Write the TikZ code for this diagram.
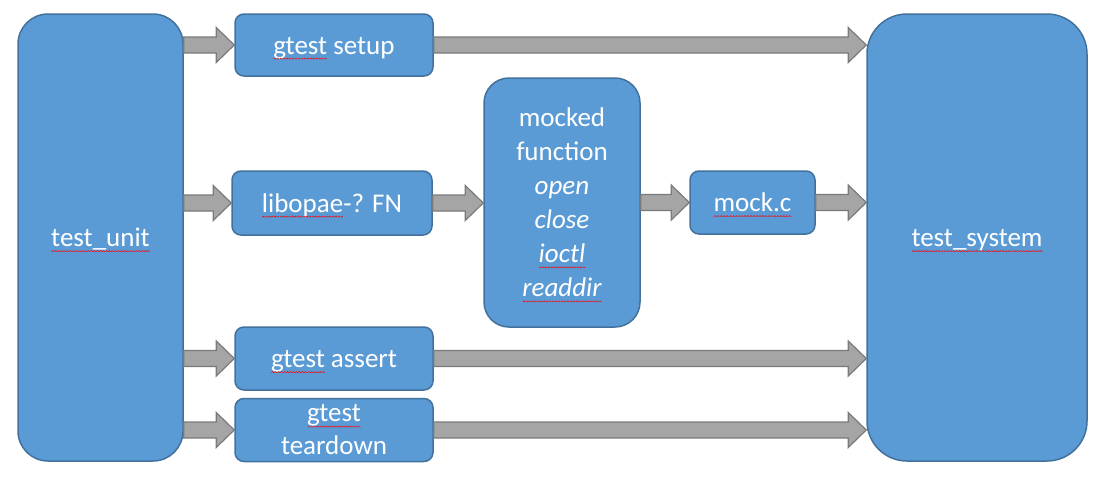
\documentclass[tikz,border=0pt]{standalone}
\usepackage{fontspec}
\setmainfont{Carlito}
\usetikzlibrary{calc}
\definecolor{boxfill}{HTML}{5B9BD5}
\definecolor{boxline}{HTML}{41719C}
\definecolor{arrfill}{HTML}{A5A5A5}
\definecolor{arrline}{HTML}{7A7A7A}
\newsavebox\wavebox
\sbox\wavebox{\tikz\draw[red,line width=0.5pt] (0,0)--(1.2pt,1.2pt)--(2.4pt,0);}
\newsavebox\sqbox
\newcommand\sq[1]{\leavevmode\sbox\sqbox{#1}\rlap{\usebox\sqbox}\raisebox{-5.5pt}[0pt][0pt]{\hbox to \wd\sqbox{\xleaders\copy\wavebox\hfil}}}
\newcommand\barrow[2]{\draw[arr] let \p1=(#1), \p2=(#2) in (\x1,\y1+8pt) -- (\x2-18pt,\y1+8pt) -- (\x2-18pt,\y1+17.5pt) -- (\x2,\y1) -- (\x2-18pt,\y1-17.5pt) -- (\x2-18pt,\y1-8pt) -- (\x1,\y1-8pt) -- cycle;}
\tikzset{
  blk/.style={draw=boxline, fill=boxfill, line width=1.5pt, text=white, align=center,
    font=\fontsize{27}{34}\selectfont, inner sep=0pt, rounded corners=9pt},
  one/.style={text height=20pt, text depth=2pt},
  arr/.style={draw=arrline, fill=arrfill, line width=1.2pt}
}
\begin{document}
\begin{tikzpicture}[x=1pt,y=-1pt]
\useasboundingbox (0,0) rectangle (1104,488);
\node[blk, one, minimum width=165pt, minimum height=447pt, rounded corners=30pt] (unit) at (100.5,237.5) {\sq{test\_unit}};
\node[blk, one, minimum width=220pt, minimum height=447pt, rounded corners=40pt] (system) at (977,237.5) {\sq{test\_system}};
\node[blk, one, minimum width=198pt, minimum height=62pt] (setup) at (334,45) {\sq{gtest} setup};
\node[blk, one, minimum width=200pt, minimum height=64pt] (lib) at (332,203) {\sq{libopae}-? FN};
\node[blk, minimum width=156pt, minimum height=249pt, rounded corners=25pt] (mocked) at (562,202.5) {mocked\\function\\\textit{open}\\\textit{close}\\\textit{\sq{ioctl}}\\\textit{\sq{readdir}}};
\node[blk, one, minimum width=125pt, minimum height=63pt] (mockc) at (752.5,202.5) {\sq{mock.c}};
\node[blk, one, minimum width=198pt, minimum height=63pt] (assert) at (334,358.5) {\sq{gtest} assert};
\node[blk, minimum width=198pt, minimum height=63pt, font=\fontsize{27}{33}\selectfont] (tear) at (334,430) {\sq{gtest}\\teardown};
\barrow{unit.east |- setup.west}{setup.west}
\barrow{setup.east}{system.west |- setup.east}
\barrow{unit.east |- lib.west}{lib.west}
\barrow{lib.east}{mocked.west |- lib.east}
\barrow{mocked.east |- mockc.west}{mockc.west}
\barrow{mockc.east}{system.west |- mockc.east}
\barrow{unit.east |- assert.west}{assert.west}
\barrow{assert.east}{system.west |- assert.east}
\barrow{unit.east |- tear.west}{tear.west}
\barrow{tear.east}{system.west |- tear.east}
\end{tikzpicture}
\end{document}
